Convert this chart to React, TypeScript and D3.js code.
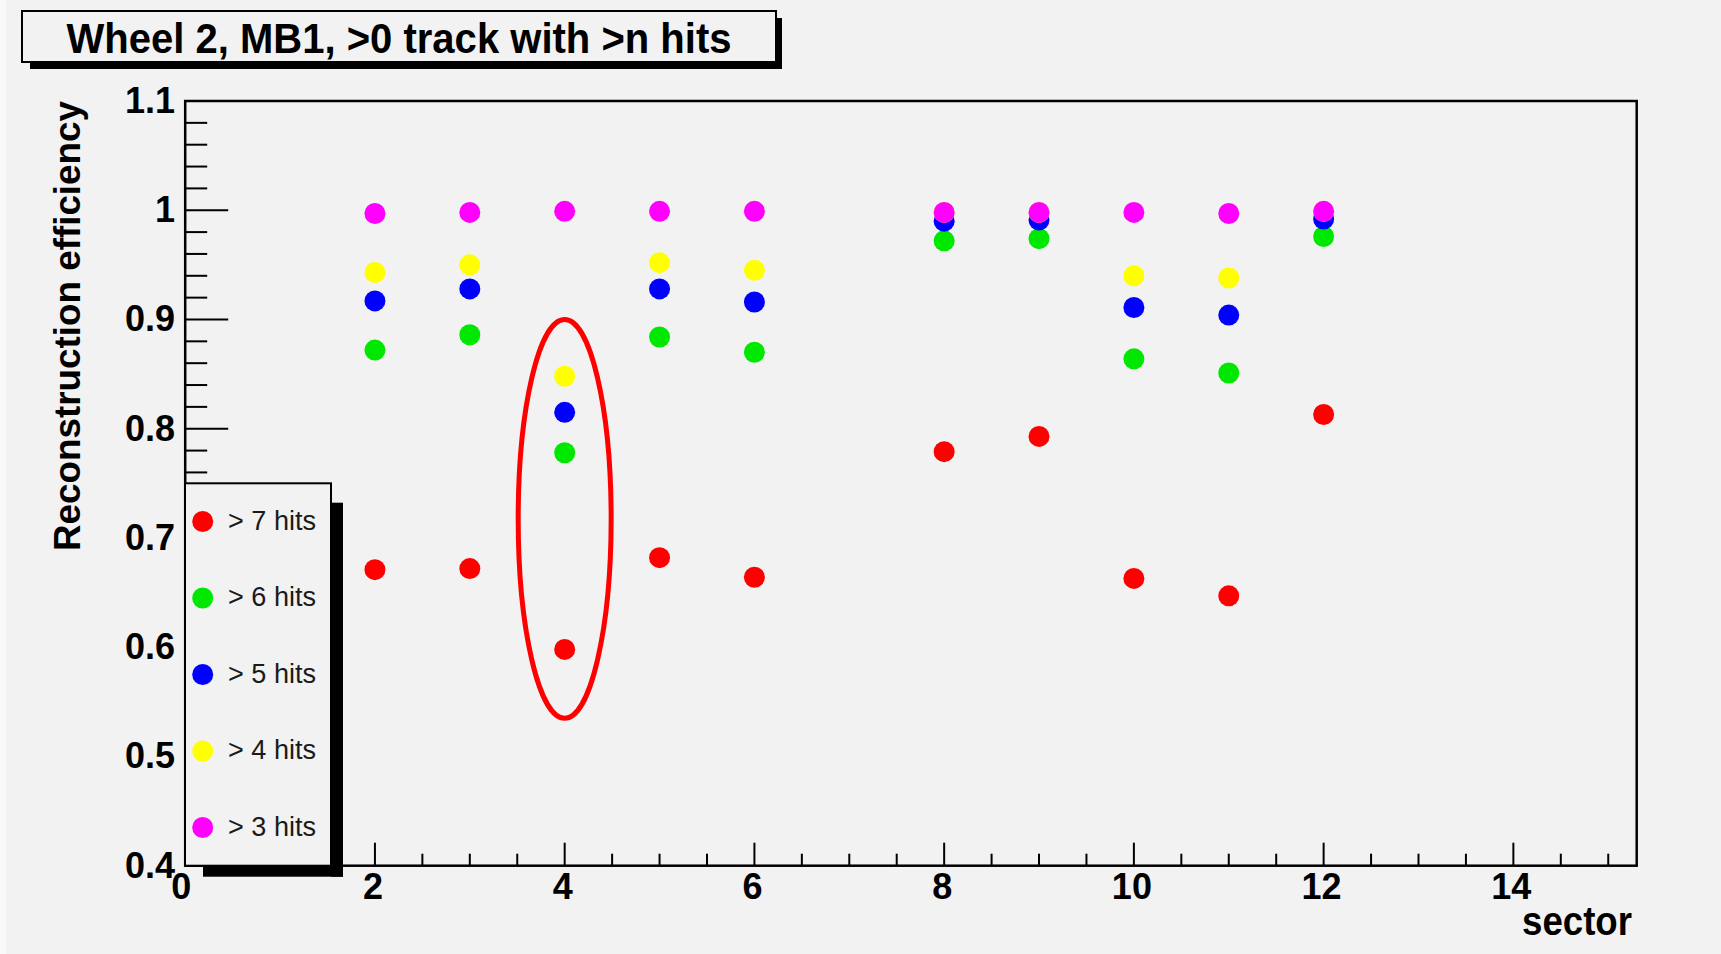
import React from "react";
import * as d3 from "d3";

const sectors = [2, 3, 4, 5, 6, 8, 9, 10, 11, 12];
const gt7 = [0.671, 0.672, 0.598, 0.682, 0.664, 0.779, 0.793, 0.663, 0.647, 0.813];
const gt6 = [0.872, 0.886, 0.778, 0.884, 0.870, 0.972, 0.974, 0.864, 0.851, 0.976];
const gt5 = [0.917, 0.928, 0.815, 0.928, 0.916, 0.990, 0.991, 0.911, 0.904, 0.992];
const gt4 = [0.943, 0.950, 0.848, 0.952, 0.945, 0.998, 0.998, 0.940, 0.938, 0.999];
const gt3 = [0.997, 0.998, 0.999, 0.999, 0.999, 0.998, 0.998, 0.998, 0.997, 0.999];

const seriesNames = ["> 7 hits", "> 6 hits", "> 5 hits", "> 4 hits", "> 3 hits"];
const seriesColors = ["#ff0000", "#00e800", "#0000ff", "#ffff00", "#ff00ff"];
const seriesValues = [gt7, gt6, gt5, gt4, gt3];

const xTicks = [0, 2, 4, 6, 8, 10, 12, 14];
const yTicks = [0.4, 0.5, 0.6, 0.7, 0.8, 0.9, 1, 1.1];
const yTickLabels = ["0.4", "0.5", "0.6", "0.7", "0.8", "0.9", "1", "1.1"];

const title = "Wheel 2, MB1, >0 track with >n hits";
const xTitle = "sector";
const yTitle = "Reconstruction efficiency";

// annotation ellipse around sector 4 (data coords)
const highlight = { sector: 4, halfWidth: 0.49, yLow: 0.535, yHigh: 0.9 };

const FONT = "'Liberation Sans', Arial, Helvetica, sans-serif";

export default function App() {
  const W = 1721, H = 954;
  const x = d3.scaleLinear().domain([0, 15.3]).range([185.2, 1636.7]);
  const y = d3.scaleLinear().domain([0.4, 1.1]).range([865.7, 101]);
  const [x0, x1] = x.range();
  const [y0, y1] = y.range();

  const xMinor = d3.range(0, 15.3, 0.5).filter((v) => Math.abs(v / 2 - Math.round(v / 2)) > 1e-6);
  const yMinor = d3.range(0.4, 1.1001, 0.02).filter((v) => Math.abs(v * 10 - Math.round(v * 10)) > 1e-6);

  const legendY = d3.scaleLinear().domain([0, 4]).range([521.5, 827.5]);

  return (
    <svg
      width={W}
      height={H}
      style={{ position: "absolute", left: 0, top: 0, display: "block" }}
      fontFamily={FONT}
    >
      <rect x={0} y={0} width={W} height={H} fill="#f2f2f2" />
      <rect x={0} y={0} width={6} height={H} fill="#f9f9f9" />

      {/* Title box */}
      <rect x={30} y={62} width={752} height={7} fill="#000" />
      <rect x={776} y={18} width={6} height={51} fill="#000" />
      <rect x={22} y={11} width={754} height={51} fill="#f2f2f2" stroke="#000" strokeWidth={2} />
      <text
        x={399}
        y={53}
        textAnchor="middle"
        fontSize={43}
        fontWeight="bold"
        textLength={665}
        lengthAdjust="spacingAndGlyphs"
        fill="#000"
      >
        {title}
      </text>

      {/* Frame */}
      <rect x={x0} y={y1} width={x1 - x0} height={y0 - y1} fill="none" stroke="#000" strokeWidth={2.5} />

      {/* Y ticks */}
      {yTicks.map((v) => (
        <line key={"ym" + v} x1={x0} x2={x0 + 43} y1={y(v)} y2={y(v)} stroke="#000" strokeWidth={2} />
      ))}
      {yMinor.map((v) => (
        <line key={"yn" + v} x1={x0} x2={x0 + 22} y1={y(v)} y2={y(v)} stroke="#000" strokeWidth={2} />
      ))}
      {yTicks.map((v, i) => (
        <text key={"yl" + v} x={175} y={y(v) + 12} textAnchor="end" fontSize={36} fontWeight="bold" fill="#000">
          {yTickLabels[i]}
        </text>
      ))}

      {/* X ticks */}
      {xTicks.map((v) => (
        <line key={"xm" + v} x1={x(v)} x2={x(v)} y1={y0} y2={y0 - 23} stroke="#000" strokeWidth={2} />
      ))}
      {xMinor.map((v) => (
        <line key={"xn" + v} x1={x(v)} x2={x(v)} y1={y0} y2={y0 - 12} stroke="#000" strokeWidth={2} />
      ))}
      {xTicks.map((v) => (
        <text
          key={"xl" + v}
          x={x(v) - (v === 0 ? 4 : 2)}
          y={899}
          textAnchor="middle"
          fontSize={36}
          fontWeight="bold"
          fill="#000"
        >
          {v}
        </text>
      ))}

      {/* Axis titles */}
      <text
        x={1632}
        y={935}
        textAnchor="end"
        fontSize={40}
        fontWeight="bold"
        textLength={110}
        lengthAdjust="spacingAndGlyphs"
        fill="#000"
      >
        {xTitle}
      </text>
      <text
        transform={`translate(80, ${y1}) rotate(-90)`}
        x={0}
        y={0}
        textAnchor="end"
        fontSize={36}
        fontWeight="bold"
        textLength={450}
        lengthAdjust="spacingAndGlyphs"
        fill="#000"
      >
        {yTitle}
      </text>

      {/* Data points */}
      {seriesValues.map((vals, si) => (
        <g key={"s" + si}>
          {vals.map((v, i) => (
            <circle key={i} cx={x(sectors[i])} cy={y(v)} r={10.5} fill={seriesColors[si]} />
          ))}
        </g>
      ))}

      {/* Highlight ellipse */}
      <ellipse
        cx={x(highlight.sector)}
        cy={(y(highlight.yLow) + y(highlight.yHigh)) / 2}
        rx={x(highlight.sector + highlight.halfWidth) - x(highlight.sector)}
        ry={(y(highlight.yLow) - y(highlight.yHigh)) / 2}
        fill="none"
        stroke="#ff0000"
        strokeWidth={5}
      />

      {/* Legend */}
      <rect x={203} y={865.7} width={140} height={11} fill="#000" />
      <rect x={331} y={502.7} width={12} height={374} fill="#000" />
      <rect x={185} y={483.3} width={146} height={382.4} fill="#f2f2f2" stroke="#000" strokeWidth={2} />
      {seriesNames.map((name, i) => (
        <g key={"lg" + i}>
          <circle cx={202.7} cy={legendY(i)} r={10.5} fill={seriesColors[i]} />
          <text x={228} y={legendY(i) + 8} fontSize={27} fill="#1a1a1a" textLength={88} lengthAdjust="spacingAndGlyphs">
            {name}
          </text>
        </g>
      ))}
    </svg>
  );
}
